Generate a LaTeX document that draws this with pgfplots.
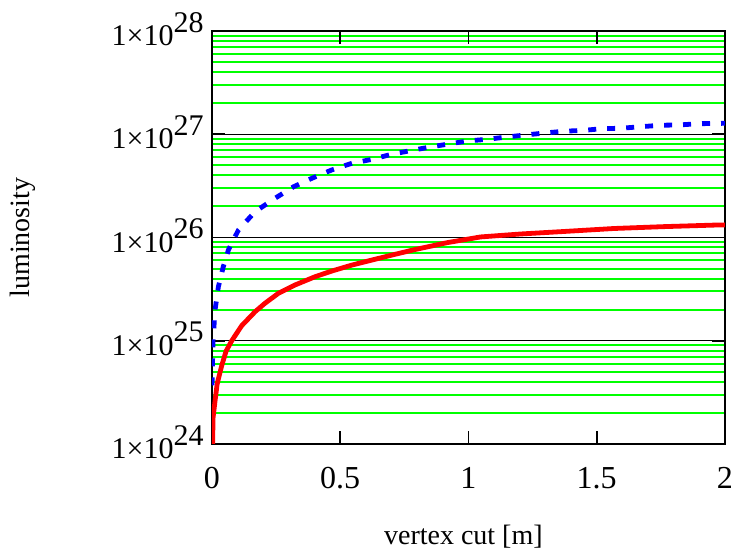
\documentclass[border=0pt]{standalone}
\usepackage{fontspec}
\setmainfont{Liberation Serif}
\usepackage{pgfplots}
\pgfplotsset{compat=1.18}
\definecolor{mcgreen}{RGB}{0,255,0}
\definecolor{mcred}{RGB}{255,0,0}
\definecolor{mcblue}{RGB}{0,0,255}
\begin{document}
\fontsize{15}{17}\selectfont
\begin{tikzpicture}
\useasboundingbox (-106pt,-55pt) rectangle (264pt,222pt);
\begin{axis}[
  at={(0,0)}, anchor=south west,
  scale only axis, width=256.5pt, height=206.5pt,
  xmin=0, xmax=2, ymin=1e24, ymax=1e28, ymode=log,
  xtick={0,0.5,1,1.5,2}, xticklabels={0,0.5,1,1.5,2},
  ytick={1e24,1e25,1e26,1e27,1e28},
  yticklabels={{1×10\raisebox{0.45em}{24}},{1×10\raisebox{0.45em}{25}},{1×10\raisebox{0.45em}{26}},{1×10\raisebox{0.45em}{27}},{1×10\raisebox{0.45em}{28}}},
  minor ytick={2e24,3e24,4e24,5e24,6e24,7e24,8e24,9e24,
               2e25,3e25,4e25,5e25,6e25,7e25,8e25,9e25,
               2e26,3e26,4e26,5e26,6e26,7e26,8e26,9e26,
               2e27,3e27,4e27,5e27,6e27,7e27,8e27,9e27},
  ymajorgrids, yminorgrids,
  major grid style={black, line width=0.7pt},
  minor grid style={mcgreen, line width=1pt},
  axis line style={black, line width=0.8pt},
  tick align=inside, xtick pos=both,
  major tick length=6.5pt, minor tick length=0pt,
  every tick/.style={black, line width=0.8pt},
  xtick style={draw=black, line width=0.8pt},
  xticklabel style={yshift=-6.5pt, font=\fontsize{16}{18}\selectfont},
  yticklabel style={yshift=1pt, xshift=1pt, font=\fontsize{15}{17}\selectfont},
  xlabel={vertex cut [m]},
  ylabel={luminosity},
  label style={font=\fontsize{14}{16}\selectfont},
  xlabel style={at={(axis description cs:0.49,-0.225)}, anchor=center},
  ylabel style={at={(axis description cs:-0.368,0.5)}, anchor=center},
  clip=true,
]
\addplot[mcred, line width=2.4pt] coordinates {
(0,3.6e23) (0.004,1.78e24) (0.012,2.63e24) (0.02,3.80e24) (0.038,5.75e24)
(0.055,7.94e24) (0.077,1.0e25) (0.116,1.40e25) (0.168,1.91e25) (0.207,2.31e25)
(0.259,2.88e25) (0.324,3.47e25) (0.402,4.17e25) (0.467,4.73e25) (0.546,5.41e25)
(0.624,6.05e25) (0.702,6.76e25) (0.786,7.59e25) (0.917,8.91e25) (1.047,1.012e26)
(1.203,1.081e26) (1.359,1.138e26) (1.568,1.222e26) (1.763,1.274e26) (1.958,1.318e26)
(2.0,1.324e26)
};
\addplot[mcblue, line width=2.4pt, dash pattern=on 4pt off 5.5pt] coordinates {
(0,3.7e24) (0.004,1.0e25) (0.012,1.99e25) (0.025,3.34e25) (0.044,5.21e25)
(0.064,7.57e25) (0.103,1.18e26) (0.168,1.78e26) (0.246,2.40e26) (0.318,3.10e26)
(0.389,3.74e26) (0.467,4.51e26) (0.546,5.24e26) (0.624,5.71e26) (0.695,6.35e26)
(0.773,6.93e26) (0.845,7.48e26) (0.923,8.05e26) (0.997,8.61e26) (1.073,8.93e26)
(1.148,9.40e26) (1.223,9.84e26) (1.297,1.028e27) (1.372,1.069e27) (1.45,1.091e27)
(1.522,1.132e27) (1.596,1.143e27) (1.672,1.183e27) (1.75,1.222e27) (1.82,1.23e27)
(1.9,1.265e27) (2.0,1.276e27)
};
\end{axis}
\end{tikzpicture}
\end{document}
